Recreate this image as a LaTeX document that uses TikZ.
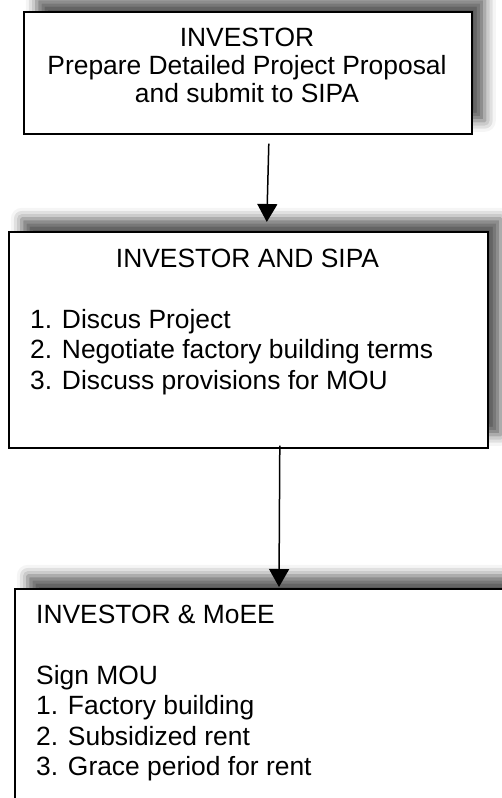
\documentclass[tikz,border=0pt]{standalone}
\usepackage{fontspec}
\setmainfont{Liberation Sans}
\usetikzlibrary{arrows.meta,calc,shadows.blur}
\begin{document}
\begin{tikzpicture}[x=1pt,y=-1pt,
  box/.style={draw=black, line width=1.6pt, fill=white, inner sep=0pt, anchor=north west,
     blur shadow={shadow xshift=13pt, shadow yshift=13pt, shadow blur radius=11pt, shadow opacity=65}},
  txt/.style={font=\fontsize{26.4}{30}\selectfont, inner sep=0pt, text=black},
  arr/.style={line width=1.5pt, -{Triangle[width=20pt,length=18pt]}}]
\useasboundingbox (0,0) rectangle (502,798);
\clip (0,0) rectangle (502,798);
% boxes
\node[box, minimum width=448pt, minimum height=122pt] (b1) at (23,11) {};
\node[box, minimum width=479pt, minimum height=216pt] (b2) at (8,231) {};
\node[box, minimum width=540pt, minimum height=260pt] (b3) at (14,588) {};
% box 1 text
\node[txt, anchor=base] (t1a) at (247,46) {INVESTOR};
\node[txt, anchor=base] (t1b) at (247,74) {Prepare Detailed Project Proposal};
\node[txt, anchor=base] (t1c) at (247,102) {and submit to SIPA};
% box 2 text
\node[txt, anchor=base] (t2a) at (247.5,267) {INVESTOR AND SIPA};
\node[txt, anchor=base west] (t2b) at (30,328) {1. Discus Project};
\node[txt, anchor=base west] (t2c) at (30,358.5) {2. Negotiate factory building terms};
\node[txt, anchor=base west] (t2d) at (30,389) {3. Discuss provisions for MOU};
% box 3 text
\node[txt, anchor=base west] (t3a) at (36,623) {INVESTOR \& MoEE};
\node[txt, anchor=base west] (t3b) at (36,684) {Sign MOU};
\node[txt, anchor=base west] (t3c) at (36,714.5) {1. Factory building};
\node[txt, anchor=base west] (t3d) at (36,745) {2. Subsidized rent};
\node[txt, anchor=base west] (t3e) at (36,775.5) {3. Grace period for rent};
% arrows
\draw[arr] ($(b1.south)+(21,9)$) -- ($(b2.north)+(18.5,-9)$);
\draw[arr] ($(b2.south)+(31.5,-3)$) -- ($(b3.north west)+(265,-1)$);
\end{tikzpicture}
\end{document}
